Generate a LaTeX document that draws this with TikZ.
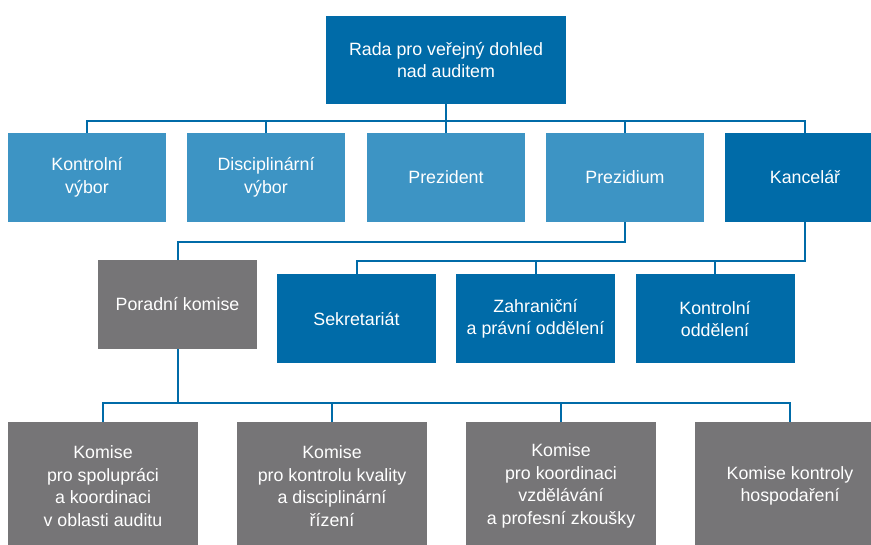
\documentclass[tikz,border=0pt]{standalone}
\usepackage{fontspec}
\setmainfont{Liberation Sans}
\definecolor{tmava}{RGB}{0,107,168}
\definecolor{svetla}{RGB}{61,148,196}
\definecolor{seda}{RGB}{118,117,119}
\tikzset{
  box/.style={fill=#1,text=white,align=center,inner sep=0pt,minimum width=158pt,minimum height=89pt,font=\fontsize{17.8}{22.5}\selectfont},
  spoj/.style={draw=tmava,line width=2pt}
}
\begin{document}
\begin{tikzpicture}[x=1pt,y=-1pt]
                \clip (0,0) rectangle (871,545);
                \node[box=tmava,minimum width=240pt,minimum height=88pt] (rada) at (446,60) {Rada pro veřejný dohled\\nad auditem};
                \foreach \x/\t [count=\j from 1] in {87/{Kontrolní\\výbor},266/{Disciplinární\\výbor},446/Prezident,625/Prezidium} \node[box=svetla] (v\j) at (\x,177.5) {\t};
                \node[box=tmava,minimum width=160pt] (kanc) at (805,177.5) {Kancelář};
                \node[box=seda,minimum width=159pt] (por) at (177.5,304.5) {Poradní komise};
                \foreach \x/\t [count=\j from 1] in {356.5/Sekretariát,535.5/{Zahraniční\\a právní oddělení},715/{Kontrolní\\oddělení}} \node[box=tmava,minimum width=159pt] (o\j) at (\x,319) {\t};
                \foreach \x/\t [count=\j from 1] in {103/{Komise\\pro spolupráci\\a koordinaci\\v oblasti auditu},332/{Komise\\pro kontrolu kvality\\a disciplinární\\řízení},561/{Komise\\pro koordinaci\\vzdělávání\\a profesní zkoušky},790/{Komise kontroly\\hospodaření}} \node[box=seda,minimum width=190pt,minimum height=128pt] (k\j) at (\x,486) {\t};
                \coordinate (s1) at (0,121);
                \coordinate (s2) at (0,242);
                \coordinate (s3) at (0,261);
                \coordinate (s4) at (0,403);
                \foreach \n in {v1,v2,v3,v4,kanc} \draw[spoj] (rada.south) -- (rada.south |- s1) -| (\n.north);
                \draw[spoj] (v4.south) -- (v4.south |- s2) -| (por.north);
                \foreach \n in {o1,o2,o3} \draw[spoj] (kanc.south) -- (kanc.south |- s3) -| (\n.north);
                \foreach \n in {k1,k2,k3,k4} \draw[spoj] (por.south) -- (por.south |- s4) -| (\n.north);
\end{tikzpicture}
\end{document}
